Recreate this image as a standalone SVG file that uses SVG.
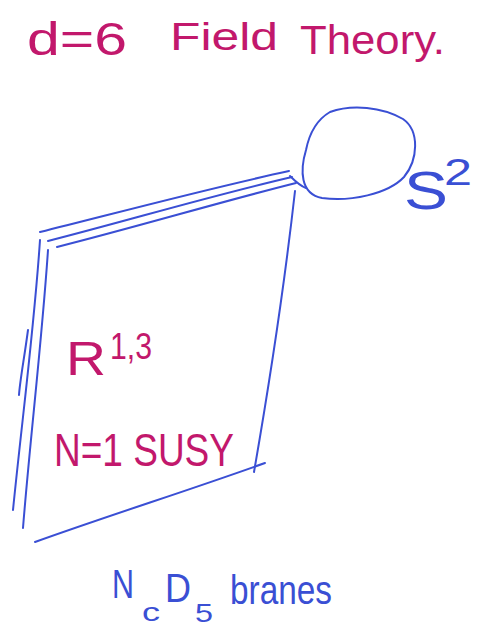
<svg xmlns="http://www.w3.org/2000/svg" width="486" height="627" viewBox="0 0 486 627">
<style>
.ink{fill:none;stroke:#3a4fd4;stroke-width:2;stroke-linecap:round;stroke-linejoin:round}
.mag{fill:#c2186c;font-family:"Liberation Sans","DejaVu Sans",sans-serif}
.blu{fill:#3a4fd4;font-family:"Liberation Sans","DejaVu Sans",sans-serif}
</style>
<rect width="486" height="627" fill="#ffffff"/>
<g id="title">
<text class="mag" x="27" y="55" font-size="46" textLength="100" lengthAdjust="spacingAndGlyphs">d=6</text>
<text class="mag" x="170" y="50" font-size="38" textLength="108" lengthAdjust="spacingAndGlyphs">Field</text>
<text class="mag" x="300" y="54" font-size="40" textLength="145" lengthAdjust="spacingAndGlyphs">Theory.</text>
</g>
<g id="sphere">
<path class="ink" d="M330,112 C352,104 382,107 403,119 C420,131 418,160 404,177 C388,194 350,202 322,198 C300,194 300,170 306,150 C310,130 318,119 330,112 Z"/>
<text class="blu" x="404" y="209" font-size="54" textLength="44" lengthAdjust="spacingAndGlyphs">S</text>
<text class="blu" x="444" y="185" font-size="36" textLength="28" lengthAdjust="spacingAndGlyphs">2</text>
</g>
<g id="connectors">
<path class="ink" d="M40,232 C120,212 210,188 289,171"/>
<path class="ink" d="M48,241 C130,220 210,196 292,177"/>
<path class="ink" d="M57,247 C140,226 220,202 296,183"/>
<path class="ink" d="M290,176 C296,182 300,186 306,188"/>
</g>
<g id="brane">
<path class="ink" d="M295,191 C285,280 270,380 254,472"/>
<path class="ink" d="M35,542 C110,515 190,490 265,463"/>
<path class="ink" d="M40,240 C34,330 22,420 13,510"/>
<path class="ink" d="M48,250 C42,340 30,440 23,528"/>
<path class="ink" d="M28,330 C24,360 20,380 19,395"/>
<text class="mag" x="66" y="375" font-size="48" textLength="40" lengthAdjust="spacingAndGlyphs">R</text>
<text class="mag" x="110" y="359" font-size="36" textLength="42" lengthAdjust="spacingAndGlyphs">1,3</text>
<text class="mag" x="54" y="466" font-size="46" textLength="180" lengthAdjust="spacingAndGlyphs">N=1 SUSY</text>
</g>
<g id="branes-label">
<text class="blu" x="112" y="598" font-size="40" textLength="22" lengthAdjust="spacingAndGlyphs">N</text>
<text class="blu" x="142" y="621" font-size="26" textLength="18" lengthAdjust="spacingAndGlyphs">c</text>
<text class="blu" x="165" y="602" font-size="40" textLength="26" lengthAdjust="spacingAndGlyphs">D</text>
<text class="blu" x="195" y="622" font-size="26" textLength="18" lengthAdjust="spacingAndGlyphs">5</text>
<text class="blu" x="230" y="604" font-size="40" textLength="102" lengthAdjust="spacingAndGlyphs">branes</text>
</g>
</svg>
